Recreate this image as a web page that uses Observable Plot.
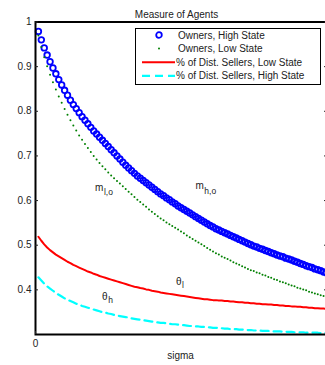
<!DOCTYPE html>
<html><head><meta charset="utf-8">
<script src="https://cdn.jsdelivr.net/npm/d3@7"></script>
<script src="https://cdn.jsdelivr.net/npm/@observablehq/plot@0.6"></script>
<style>
body{margin:0;background:#fff;overflow:hidden;}
#wrap{position:relative;width:325px;height:365px;overflow:hidden;font-family:"Liberation Sans",Arial,sans-serif;}
#wrap svg{display:block;}
#overlay{position:absolute;left:0;top:0;pointer-events:none;}
</style></head><body><div id="wrap"></div>
<script>
const chartTitle = "Measure of Agents";
const xLabel = "sigma";
const xTicks = [0, 1];
const xTickLabels = ["0", ""];
const yTicks = [0.4, 0.5, 0.6, 0.7, 0.8, 0.9, 1];

const sigma = [0.01,0.02,0.03,0.04,0.05,0.06,0.07,0.08,0.09,0.10,
0.11,0.12,0.13,0.14,0.15,0.16,0.17,0.18,0.19,0.20,
0.21,0.22,0.23,0.24,0.25,0.26,0.27,0.28,0.29,0.30,
0.31,0.32,0.33,0.34,0.35,0.36,0.37,0.38,0.39,0.40,
0.41,0.42,0.43,0.44,0.45,0.46,0.47,0.48,0.49,0.50,
0.51,0.52,0.53,0.54,0.55,0.56,0.57,0.58,0.59,0.60,
0.61,0.62,0.63,0.64,0.65,0.66,0.67,0.68,0.69,0.70,
0.71,0.72,0.73,0.74,0.75,0.76,0.77,0.78,0.79,0.80,
0.81,0.82,0.83,0.84,0.85,0.86,0.87,0.88,0.89,0.90,
0.91,0.92,0.93,0.94,0.95,0.96,0.97,0.98,0.99,1.00];

const ownersHigh = [.979,.960,.942,.926,.911,.897,.884,.871,.859,.847,
.836,.825,.815,.806,.797,.788,.780,.772,.764,.756,
.749,.742,.735,.728,.721,.714,.707,.700,.693,.686,
.679,.673,.667,.661,.655,.650,.645,.640,.635,.630,
.625,.620,.615,.611,.606,.602,.597,.593,.588,.584,
.580,.576,.572,.568,.564,.560,.556,.552,.548,.544,
.541,.537,.534,.531,.528,.525,.522,.519,.516,.513,
.510,.507,.504,.501,.498,.496,.493,.491,.488,.486,
.483,.481,.478,.476,.474,.471,.469,.467,.464,.462,
.459,.457,.454,.452,.450,.447,.445,.443,.440,.438];

const ownersLow = [.970,.944,.921,.901,.882,.865,.849,.833,.819,.805,
.792,.780,.768,.757,.746,.736,.727,.718,.709,.700,
.692,.684,.677,.670,.663,.656,.650,.644,.638,.632,
.626,.620,.614,.608,.602,.597,.591,.586,.580,.575,
.570,.565,.560,.556,.551,.547,.543,.539,.535,.531,
.527,.522,.518,.514,.510,.506,.502,.498,.494,.490,
.486,.482,.479,.475,.472,.469,.466,.462,.459,.456,
.453,.450,.447,.444,.442,.439,.437,.434,.432,.429,
.427,.424,.422,.419,.417,.415,.412,.410,.408,.405,
.403,.401,.399,.396,.394,.392,.390,.388,.386,.384];

const sellersLow = [.519,.510,.502,.495,.489,.484,.479,.475,.471,.467,
.463,.460,.456,.453,.450,.447,.444,.441,.439,.436,
.434,.431,.429,.427,.425,.423,.421,.419,.417,.415,
.413,.411,.409,.407,.406,.404,.403,.401,.400,.398,
.397,.396,.394,.393,.392,.391,.390,.389,.388,.387,
.386,.385,.384,.383,.382,.381,.380,.379,.379,.378,
.377,.377,.376,.376,.375,.375,.374,.374,.373,.372,
.372,.371,.371,.370,.370,.369,.369,.368,.368,.367,
.367,.366,.366,.365,.365,.364,.364,.363,.363,.362,
.362,.361,.361,.360,.360,.359,.359,.358,.358,.357];

const sellersHigh = [.428,.421,.414,.408,.403,.398,.393,.389,.385,.381,
.378,.375,.372,.369,.367,.364,.362,.360,.358,.356,
.354,.352,.350,.349,.347,.346,.344,.343,.341,.340,
.339,.338,.336,.335,.334,.333,.332,.331,.330,.329,
.328,.327,.326,.326,.325,.324,.323,.323,.322,.321,
.321,.320,.319,.319,.318,.318,.317,.317,.316,.316,
.315,.315,.314,.314,.313,.313,.312,.312,.312,.311,
.311,.310,.310,.310,.309,.309,.309,.308,.308,.308,
.307,.307,.307,.307,.306,.306,.306,.306,.305,.305,
.305,.305,.304,.304,.304,.304,.304,.303,.303,.303];

const legendLabels = ["Owners, High State", "Owners, Low State",
  "% of Dist. Sellers, Low State", "% of Dist. Sellers, High State"];

const mLabels = [
  {base: "m", sub: "l,o", sigma: 0.219, value: 0.629},
  {base: "m", sub: "h,o", sigma: 0.564, value: 0.632}
];
const thetaLabels = [
  {base: "θ", sub: "l", sigma: 0.492, value: 0.418},
  {base: "θ", sub: "h", sigma: 0.238, value: 0.384}
];

const rows = (vals) => sigma.map((s, i) => ({sigma: s, value: vals[i]}));
const font = "Liberation Sans, Arial, sans-serif";
const ink = "#222";

const chart = Plot.plot({
  width: 326,
  height: 365,
  marginLeft: 35,
  marginRight: 0,
  marginTop: 21.5,
  marginBottom: 31,
  style: {fontFamily: font, fontSize: "10px", color: ink, background: "white", maxWidth: "none", overflow: "hidden"},
  x: {domain: [0, 1]},
  y: {domain: [0.3, 1]},
  marks: [
    Plot.dot(rows(ownersHigh), {x: "sigma", y: "value", r: 2.8, stroke: "#0000ff", strokeWidth: 1.8, fill: "none"}),
    Plot.dot(rows(ownersLow), {x: "sigma", y: "value", r: 1, fill: "#008000", stroke: "none"}),
    Plot.line(rows(sellersLow), {x: "sigma", y: "value", stroke: "#ff0000", strokeWidth: 2}),
    Plot.line(rows(sellersHigh), {x: "sigma", y: "value", stroke: "#00ffff", strokeWidth: 2.2, strokeDasharray: "8,5"}),
    Plot.text(mLabels, {x: "sigma", y: "value", text: "base", fontSize: 10, fill: ink}),
    Plot.text(mLabels, {x: "sigma", y: "value", text: "sub", fontSize: 8.5, textAnchor: "start", dx: 4.7, dy: 5, fill: ink}),
    Plot.text(thetaLabels, {x: "sigma", y: "value", text: "base", fontSize: 10, fill: ink}),
    Plot.text(thetaLabels, {x: "sigma", y: "value", text: "sub", fontSize: 8.5, textAnchor: "start", dx: 3.4, dy: 3.5, fill: ink}),
    Plot.frame({stroke: "#000", strokeWidth: 2}),
    Plot.axisY({anchor: "left", ticks: yTicks, tickSize: -3, tickPadding: 7, tickFormat: d => String(d), label: null, fontSize: 10}),
    Plot.axisY({anchor: "right", ticks: yTicks, tickSize: -3, tickFormat: () => "", label: null}),
    Plot.axisX({anchor: "bottom", ticks: xTicks, tickSize: -3, tickPadding: 8, tickFormat: (d, i) => xTickLabels[i], label: null, fontSize: 10}),
    Plot.text([chartTitle], {frameAnchor: "top", dy: -11.5, dx: -4.5, fontSize: 10, fill: ink}),
    Plot.text([xLabel], {frameAnchor: "bottom", dy: 24, dx: -0.5, fontSize: 10, fill: ink})
  ]
});
document.getElementById("wrap").appendChild(chart);

// legend overlay
const svg = d3.select("#wrap").append("svg").attr("id", "overlay")
  .attr("width", 325).attr("height", 365)
  .style("font-family", font).style("font-size", "10px");
const lg = svg.append("g").attr("transform", "translate(135,28)");
lg.append("rect").attr("x", 0.5).attr("y", 0.5).attr("width", 185).attr("height", 56)
  .attr("fill", "white").attr("stroke", "#000").attr("stroke-width", 1);
const rowY = i => 7 + i * 13.6;
legendLabels.forEach((label, i) => {
  const g = lg.append("g").attr("transform", `translate(0,${rowY(i)})`);
  if (i === 0) g.append("circle").attr("cx", 24).attr("cy", 0).attr("r", 2.8)
      .attr("fill", "none").attr("stroke", "#0000ff").attr("stroke-width", 1.8);
  if (i === 1) g.append("circle").attr("cx", 24).attr("cy", 0).attr("r", 1).attr("fill", "#008000");
  if (i === 2) g.append("line").attr("x1", 7).attr("x2", 40).attr("y1", 0).attr("y2", 0)
      .attr("stroke", "#ff0000").attr("stroke-width", 2);
  if (i === 3) g.append("line").attr("x1", 7).attr("x2", 40).attr("y1", 0).attr("y2", 0)
      .attr("stroke", "#00ffff").attr("stroke-width", 2.2).attr("stroke-dasharray", "8,5");
  g.append("text").attr("x", i < 2 ? 43 : 41).attr("y", 0).attr("dy", "0.35em")
    .attr("fill", ink).text(label);
});
</script></body></html>
